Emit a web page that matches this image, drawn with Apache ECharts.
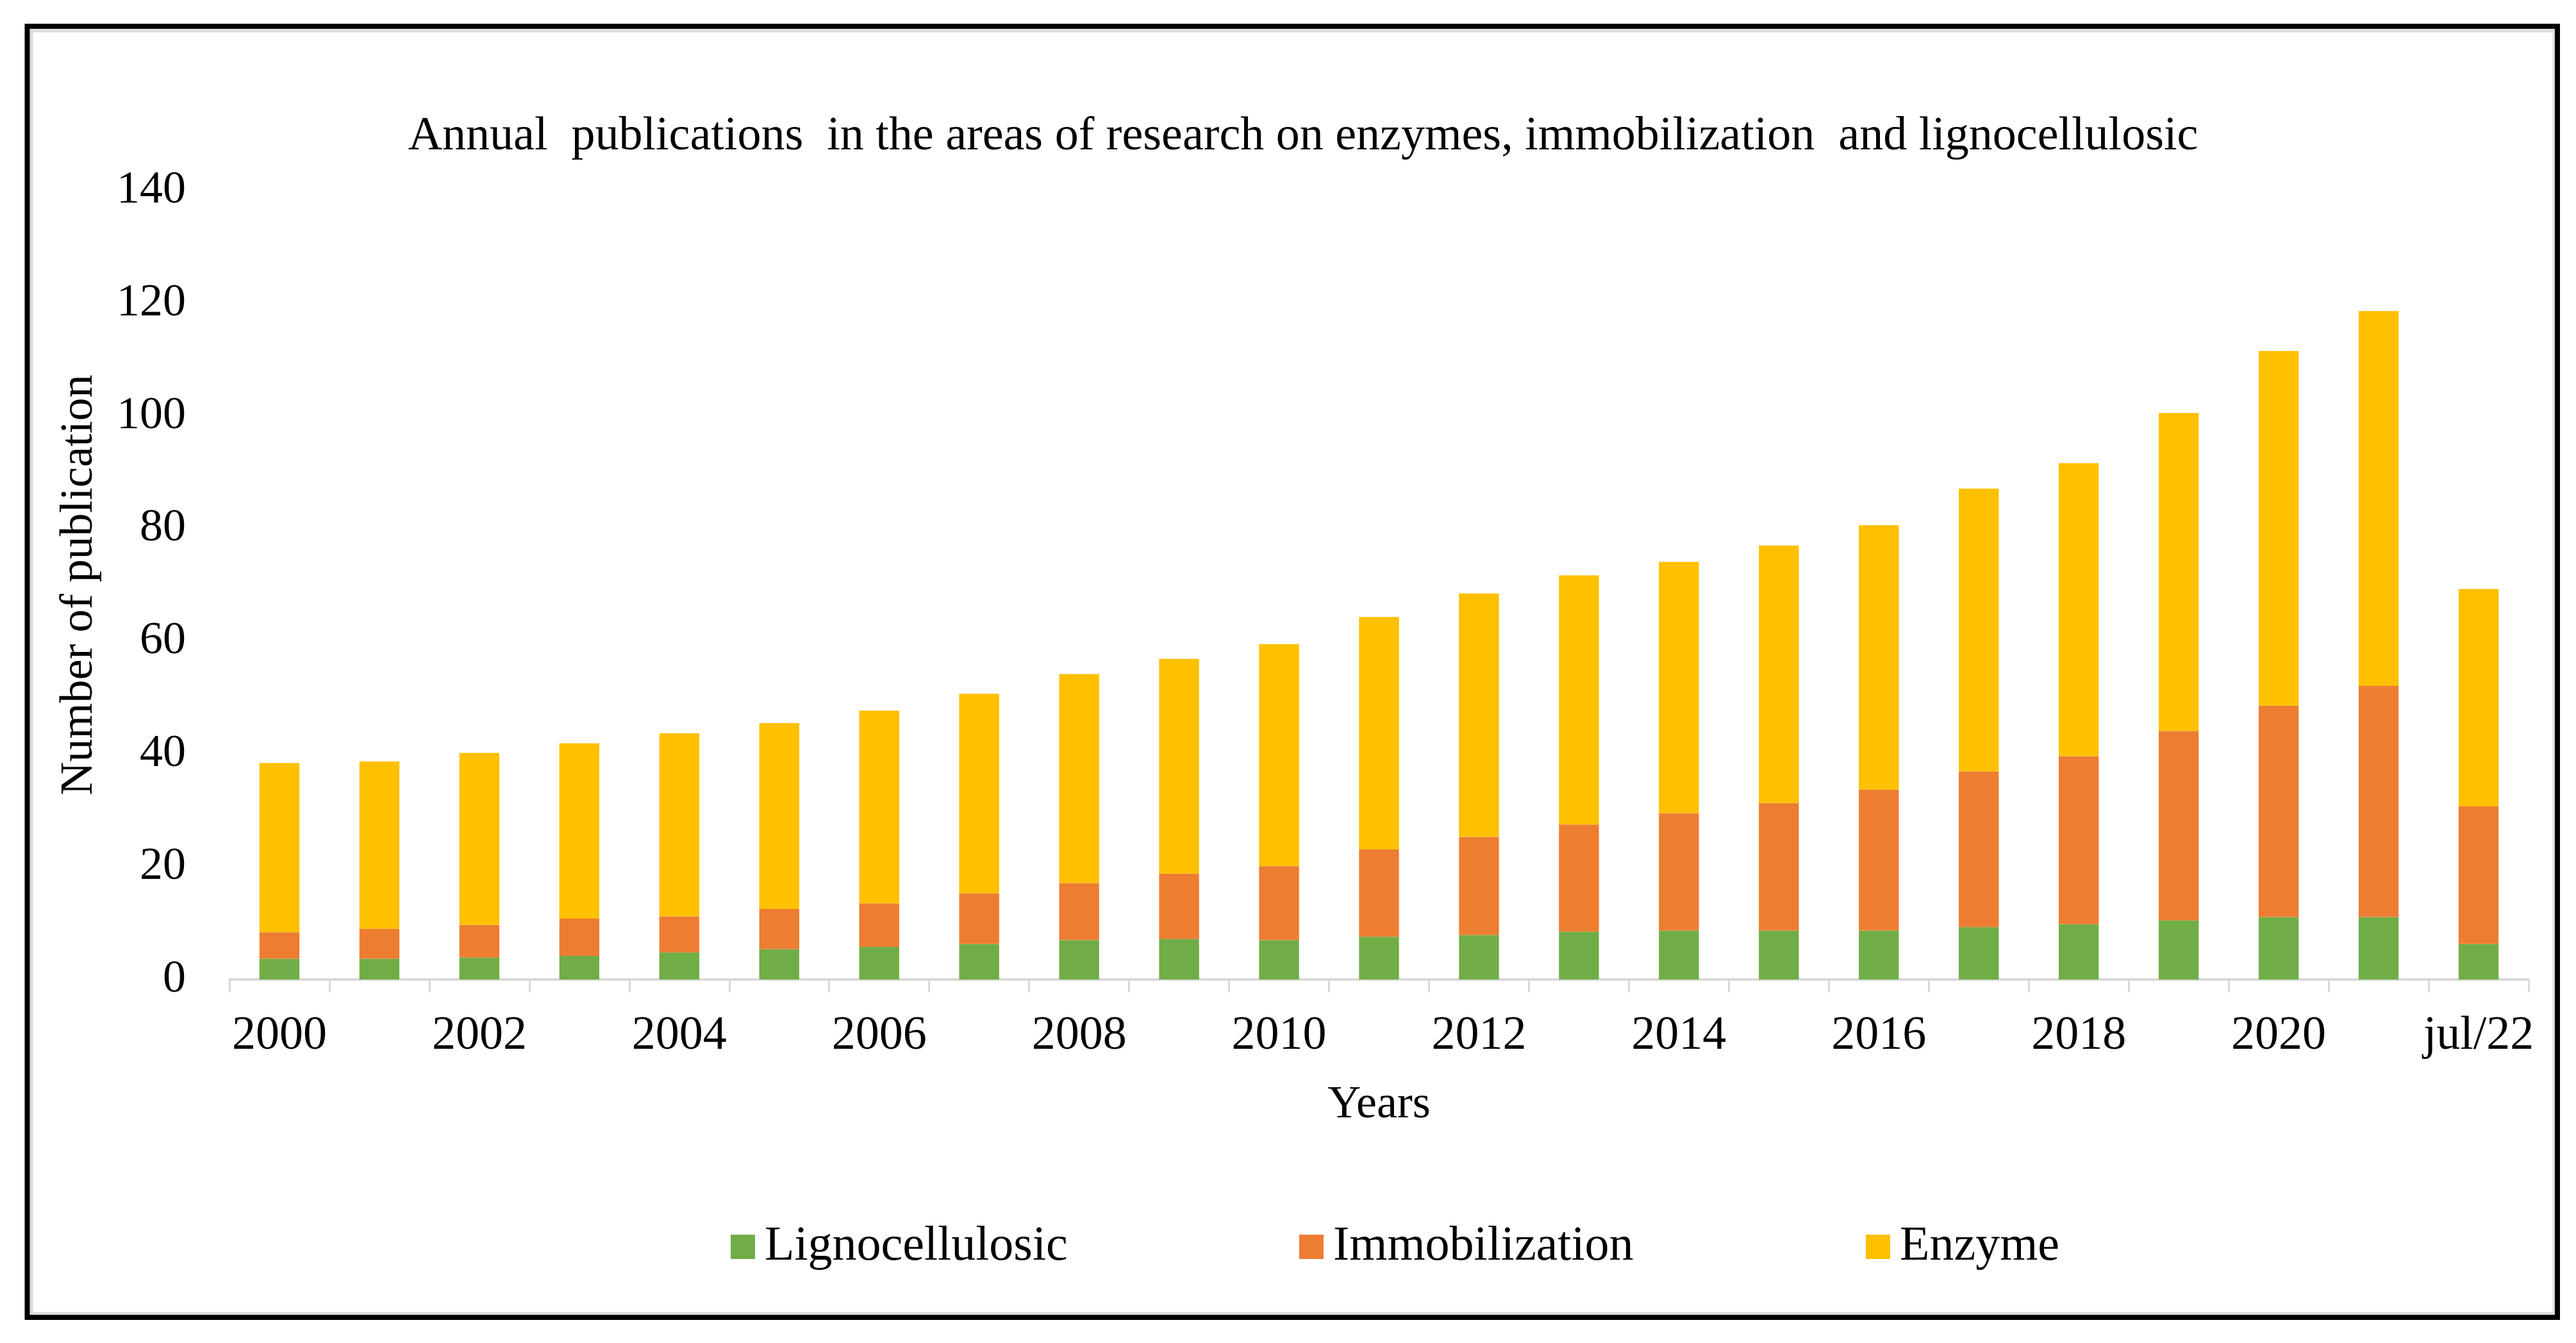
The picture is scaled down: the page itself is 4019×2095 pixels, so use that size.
<!DOCTYPE html>
<html>
<head>
<meta charset="utf-8">
<script src="https://cdn.jsdelivr.net/npm/echarts@6/dist/echarts.min.js"></script>
<style>
html,body{margin:0;padding:0;background:#fff;}
#chart{width:4019px;height:2095px;}
</style>
</head>
<body>
<div id="chart"></div>
<script>
const categories = ['2000','2001','2002','2003','2004','2005','2006','2007','2008','2009','2010','2011','2012','2013','2014','2015','2016','2017','2018','2019','2020','2021','jul/22'];
const lignocellulosic = [3.7,3.7,3.9,4.2,4.8,5.4,5.8,6.3,7.0,7.2,7.0,7.6,7.9,8.5,8.7,8.7,8.7,9.3,9.8,10.5,11.1,11.1,6.3];
const immobilization = [4.7,5.3,5.8,6.6,6.4,7.1,7.7,9.0,10.1,11.6,13.1,15.5,17.4,19.0,20.8,22.6,25.0,27.6,29.8,33.6,37.5,41.0,24.4];
const enzyme = [30.0,29.7,30.5,31.1,32.5,33.0,34.2,35.4,37.1,38.1,39.4,41.2,43.2,44.2,44.6,45.7,46.9,50.2,52.0,56.4,62.9,66.5,38.6];
const yTicks = {min: 0, max: 140, interval: 20};
const seriesNames = ['Lignocellulosic','Immobilization','Enzyme'];
const colors = ['#70AD47','#ED7D31','#FFC000'];

const FONT = '"Liberation Serif", "Times New Roman", serif';
const chart = echarts.init(document.getElementById('chart'), null, {renderer: 'canvas'});

const legendLefts = [1135, 2022, 2906];

const option = {
  backgroundColor: '#ffffff',
  animation: false,
  color: colors,
  title: {
    text: 'Annual  publications  in the areas of research on enzymes, immobilization  and lignocellulosic',
    left: 2028,
    textAlign: 'center',
    top: 172,
    textStyle: {fontFamily: FONT, fontSize: 74, fontWeight: 'normal', color: '#000'}
  },
  legend: seriesNames.map((n, i) => ({
    data: [n],
    left: legendLefts[i],
    top: 1902,
    itemWidth: 38,
    itemHeight: 38,
    icon: 'rect',
    textStyle: {fontFamily: FONT, fontSize: 76, color: '#000', padding: [0, 0, 0, 10]}
  })),
  grid: {left: 358, right: 74, top: 297, bottom: 567, containLabel: false},
  xAxis: {
    type: 'category',
    data: categories,
    boundaryGap: true,
    name: 'Years',
    nameLocation: 'middle',
    nameGap: 160,
    nameTextStyle: {fontFamily: FONT, fontSize: 72, color: '#000'},
    axisLine: {show: true, lineStyle: {color: '#d9d9d9', width: 4}},
    axisTick: {show: true, interval: 0, alignWithLabel: false, length: 20, lineStyle: {color: '#d9d9d9', width: 3}},
    axisLabel: {interval: 1, margin: 52, fontFamily: FONT, fontSize: 74, color: '#000'},
    splitLine: {show: false}
  },
  yAxis: {
    type: 'value',
    min: yTicks.min,
    max: yTicks.max,
    interval: yTicks.interval,
    name: 'Number of publication',
    nameLocation: 'middle',
    nameRotate: 90,
    nameGap: 198,
    nameTextStyle: {fontFamily: FONT, fontSize: 72, color: '#000'},
    axisLine: {show: false},
    axisTick: {show: false},
    splitLine: {show: false},
    axisLabel: {margin: 68, fontFamily: FONT, fontSize: 72, color: '#000'}
  },
  series: [
    {name: seriesNames[0], type: 'bar', stack: 'total', barWidth: '40%', data: lignocellulosic, itemStyle: {color: colors[0]}},
    {name: seriesNames[1], type: 'bar', stack: 'total', barWidth: '40%', data: immobilization, itemStyle: {color: colors[1]}},
    {name: seriesNames[2], type: 'bar', stack: 'total', barWidth: '40%', data: enzyme, itemStyle: {color: colors[2]}}
  ],
  graphic: [
    {type: 'rect', silent: true, z: 100, shape: {x: 49, y: 48, width: 3936, height: 2001}, style: {fill: 'none', stroke: '#dcdcdc', lineWidth: 5}},
    {type: 'rect', silent: true, z: 101, shape: {x: 42.5, y: 41, width: 3947.5, height: 2014}, style: {fill: 'none', stroke: '#000', lineWidth: 8}}
  ]
};
chart.setOption(option);
</script>
</body>
</html>
